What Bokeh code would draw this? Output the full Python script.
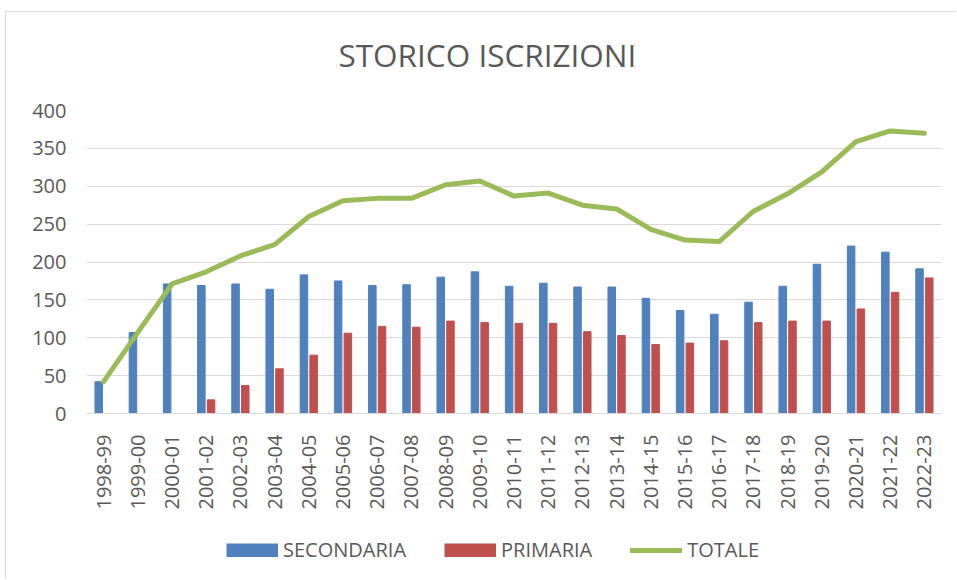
import math
from bokeh.plotting import figure
from bokeh.layouts import column
from bokeh.models import (ColumnDataSource, Range1d, Legend, LegendItem, FactorRange,
                          FixedTicker, Label)
from bokeh.transform import dodge
from bokeh.embed import file_html
from bokeh.resources import INLINE

categories = ["1998-99", "1999-00", "2000-01", "2001-02", "2002-03", "2003-04", "2004-05",
              "2005-06", "2006-07", "2007-08", "2008-09", "2009-10", "2010-11", "2011-12",
              "2012-13", "2013-14", "2014-15", "2015-16", "2016-17", "2017-18", "2018-19",
              "2019-20", "2020-21", "2021-22", "2022-23"]
secondaria = [42, 107, 171, 169, 171, 164, 183, 175, 169, 170, 180, 187, 168, 172,
              167, 167, 152, 136, 131, 147, 168, 197, 221, 213, 191]
primaria = [0, 0, 0, 18, 37, 59, 77, 106, 115, 114, 122, 120, 119, 119,
            108, 103, 91, 93, 96, 120, 122, 122, 138, 160, 179]
totale = [42, 107, 171, 187, 208, 223, 260, 281, 284, 284, 302, 307, 287, 291,
          275, 270, 243, 229, 227, 267, 290, 319, 359, 373, 370]
y_ticks = [0, 50, 100, 150, 200, 250, 300, 350, 400]
title_text = "STORICO ISCRIZIONI"
series_names = ["SECONDARIA", "PRIMARIA", "TOTALE"]

FONT = "Open Sans"
TXT = "#595959"
BLUE, RED, GREEN = "#4f81bd", "#c0504d", "#9bbb59"
W = 949


def blank(height):
    f = figure(width=W, height=height, x_range=Range1d(0, 100), y_range=Range1d(0, height),
               x_axis_type=None, y_axis_type=None, min_border=0,
               output_backend="svg", toolbar_location=None)
    f.outline_line_color = None
    f.grid.visible = False
    return f


# header with the title
header = blank(70)
header.add_layout(Label(x=0, y=28.5, x_units="screen", x_offset=252, text=title_text,
                        text_font=FONT, text_font_size="31.5px", text_color=TXT,
                        text_align="left", text_baseline="alphabetic"))

# main chart
source = ColumnDataSource(dict(cat=categories, sec=secondaria, pri=primaria, tot=totale))

p = figure(x_range=FactorRange(*categories), y_range=Range1d(0, 400),
           frame_width=855, frame_height=303,
           min_border_left=80, min_border_right=14, min_border_top=28, min_border_bottom=107,
           output_backend="svg", toolbar_location=None)

p.vbar(x=dodge('cat', -0.142, range=p.x_range), top='sec', width=0.22,
       source=source, fill_color=BLUE, line_color=BLUE)
p.vbar(x=dodge('cat', 0.142, range=p.x_range), top='pri', width=0.22,
       source=source, fill_color=RED, line_color=RED)
p.line(x='cat', y='tot', source=source, line_color=GREEN, line_width=5,
       line_join="round", line_cap="round")

p.outline_line_color = None
p.xgrid.grid_line_color = None
p.ygrid.grid_line_color = "#d9d9d9"
p.ygrid.grid_line_width = 1

p.yaxis.ticker = FixedTicker(ticks=y_ticks)
p.yaxis.axis_line_color = None
p.yaxis.major_tick_line_color = None
p.yaxis.minor_tick_line_color = None
p.yaxis.major_label_standoff = 14
p.yaxis.major_label_text_font = FONT
p.yaxis.major_label_text_font_size = "20px"
p.yaxis.major_label_text_color = TXT

p.xaxis.axis_line_color = "#d9d9d9"
p.xaxis.major_tick_line_color = None
p.xaxis.minor_tick_line_color = None
p.xaxis.major_label_orientation = math.pi / 2
p.xaxis.major_label_standoff = 15
p.xaxis.major_label_text_font = FONT
p.xaxis.major_label_text_font_size = "20px"
p.xaxis.major_label_text_color = TXT

# footer with the legend; its swatches come from single-point proxy lines
# (a single point draws nothing) styled like the chart's series
footer = blank(58)
proxy = ColumnDataSource(dict(x=[0], y=[0]))
l_sec = footer.line(x='x', y='y', source=proxy, line_color=BLUE, line_width=14,
                    line_cap="butt")
l_pri = footer.line(x='x', y='y', source=proxy, line_color=RED, line_width=14,
                    line_cap="butt")
l_tot = footer.line(x='x', y='y', source=proxy, line_color=GREEN, line_width=5,
                    line_cap="round")
legend = Legend(items=[LegendItem(label=series_names[0], renderers=[l_sec]),
                       LegendItem(label=series_names[1], renderers=[l_pri]),
                       LegendItem(label=series_names[2], renderers=[l_tot])],
                orientation="horizontal", location=(140, 15),
                glyph_width=52, glyph_height=14, label_height=14, label_standoff=5,
                spacing=38, padding=0, margin=0, border_line_color=None,
                background_fill_alpha=0, label_text_font=FONT,
                label_text_font_size="20px", label_text_color=TXT)
footer.add_layout(legend)

layout = column(header, p, footer, spacing=0)
layout.styles = {"margin-left": "5px", "margin-top": "11px",
                 "border-top": "1px solid #d9d9d9", "border-left": "1px solid #d9d9d9"}

open("out.html", "w").write(file_html(layout, INLINE))
